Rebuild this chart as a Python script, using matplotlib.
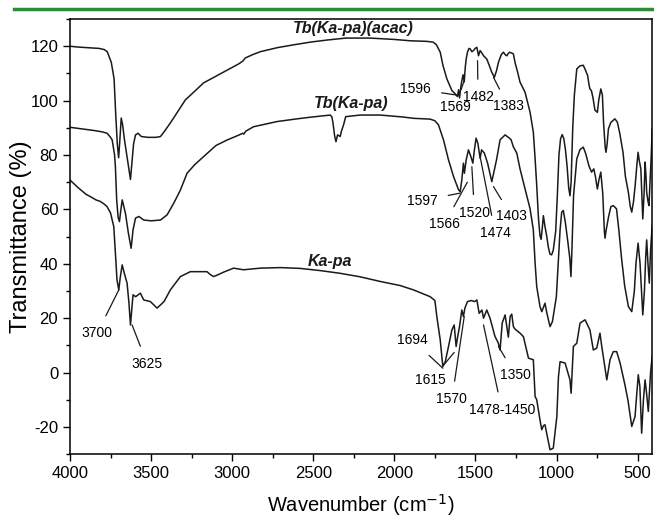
import matplotlib
matplotlib.use("Agg")
import matplotlib.pyplot as plt
from matplotlib.lines import Line2D
from matplotlib.ticker import MultipleLocator

plt.rcParams['font.family'] = ['Liberation Sans', 'DejaVu Sans']
plt.rcParams['axes.unicode_minus'] = False

# Tb(Ka-pa)(acac) spectrum (wavenumber, transmittance)
acac_wn = [4000, 3950, 3900, 3850, 3820, 3790, 3770, 3745, 3728, 3718, 3708, 3700, 3693,
           3684, 3675, 3665, 3650, 3640, 3627, 3618, 3608, 3596, 3580, 3560, 3520, 3470,
           3442, 3420, 3381, 3330, 3288, 3230, 3177, 3100, 3030, 2960, 2935, 2919, 2870,
           2826, 2720, 2623, 2520, 2413, 2300, 2150, 2000, 1900, 1800, 1760, 1740, 1717,
           1700, 1676, 1645, 1625, 1611, 1604, 1598, 1590, 1584, 1576, 1569, 1563, 1557,
           1549, 1540, 1532, 1522, 1512, 1500, 1491, 1481, 1471, 1460, 1450, 1430, 1415,
           1399, 1383, 1370, 1358, 1340, 1327, 1315, 1306, 1298, 1290, 1280, 1266, 1256,
           1240, 1225, 1194, 1163, 1143, 1132, 1122, 1111, 1102, 1095, 1088, 1081, 1072,
           1061, 1050, 1040, 1030, 1020, 1005, 995, 985, 975, 965, 955, 945, 935, 925, 917,
           910, 900, 890, 875, 855, 835, 820, 808, 800, 794, 785, 775, 763, 748, 740, 727,
           717, 710, 700, 695, 688, 680, 665, 640, 625, 610, 590, 575, 557, 545, 536, 525,
           515, 505, 497, 490, 480, 470, 468, 460, 454, 448, 444, 436, 430, 422, 415, 410]
acac_t = [120, 119.7, 119.5, 119.3, 119.2, 118.8, 118, 114, 108, 95, 84, 79, 85,
          93.6, 91, 86, 80, 76, 71, 77, 84, 87.4, 88, 86.8, 86.5, 86.5,
          86.8, 88.5, 91.8, 96.5, 100.3, 103.5, 106.5, 109, 111.3, 113.5, 114.5, 115.7, 117,
          118, 119.5, 120.5, 121.5, 122.3, 123, 123, 122.5, 122, 121.8, 121.5, 120.5, 117.8,
          112.9, 108, 103.7, 102.5, 101.5, 104, 101, 105, 107.3, 109.5, 106.9, 112, 115.3,
          117.8, 119.2, 119, 118, 118.4, 119.3, 119.6, 116.5, 118.4, 117.5, 116.5, 115.3, 113,
          110.4, 108.6, 111, 114.1, 117, 117.8, 116.8, 116.5, 117.3, 117.8, 117.6, 117.2, 114.1,
          110.5, 106.8, 103.1, 95.7, 88.4, 78.6, 68.8, 56.5, 50.4, 49, 53, 57.7, 54,
          50.4, 46, 43.5, 43.3, 45, 52, 65, 80, 86, 87.5, 86, 82, 76, 68, 65,
          70, 90, 102, 111.7, 112.8, 113, 111, 109.2, 106, 104.3, 103.7, 101, 96.5, 95.7, 100, 104.3,
          102, 92, 83, 81, 84, 89.6, 92, 93.3, 92.1, 88, 81, 72, 66.3, 61, 59, 63,
          68.8, 76, 81, 78, 74.9, 60, 56.5, 66, 77.4, 72, 66.3, 63, 61.4, 72, 81, 89.6]

# Tb(Ka-pa) spectrum
tb_wn = [4000, 3950, 3900, 3850, 3800, 3771, 3750, 3740, 3725, 3720, 3712, 3703, 3695,
         3688, 3678, 3670, 3658, 3640, 3623, 3611, 3596, 3575, 3545, 3500, 3442, 3401,
         3360, 3320, 3278, 3230, 3176, 3100, 3032, 2960, 2935, 2929, 2915, 2868, 2724,
         2600, 2518, 2395, 2385, 2378, 2368, 2360, 2350, 2344, 2334, 2325, 2313, 2300,
         2210, 2087, 1950, 1882, 1779, 1750, 1728, 1697, 1666, 1635, 1604, 1594, 1584,
         1574, 1568, 1557, 1543, 1528, 1516, 1506, 1496, 1485, 1471, 1462, 1445, 1425,
         1399, 1385, 1370, 1348, 1317, 1290, 1280, 1266, 1245, 1225, 1194, 1163, 1143,
         1132, 1122, 1102, 1091, 1081, 1071, 1060, 1040, 1025, 1001, 990, 978, 968, 958,
         945, 930, 918, 911, 905, 895, 875, 855, 835, 820, 800, 784, 770, 760, 748, 738,
         727, 715, 705, 701, 695, 680, 665, 650, 630, 615, 600, 580, 557, 536, 520, 510,
         497, 485, 468, 458, 450, 444, 436, 428, 420, 410]
tb_t = [90.2, 89.8, 89.4, 89, 88.5, 88, 86.5, 85.6, 80, 75.7, 63.5, 57, 55.5,
        59, 63.5, 61.5, 58.6, 51.3, 45.7, 52.5, 56.8, 57.4, 56.1, 55.8, 56.1, 58,
        62.3, 67, 73.3, 76.5, 79.4, 83.5, 85.5, 87.3, 88, 87.7, 88.8, 90.4, 92.3,
        93.3, 93.9, 94.7, 94, 91.7, 87, 84.9, 87.4, 87.2, 86.8, 89, 91.1, 94.1,
        94.7, 94.7, 94, 93.5, 93.2, 92.6, 91.1, 85.6, 78.2, 72.1, 67.2, 66.5, 70.8,
        77, 73.3, 78.2, 81.9, 79.4, 77, 82, 86.2, 84.3, 78.8, 81.9, 80.7, 77,
        70.2, 74, 78.2, 85.6, 87.4, 86.2, 85.6, 83, 80.7, 74.9, 67.5, 60.2, 52.5,
        40.2, 31.6, 24.3, 22.4, 24, 25.5, 22, 16.9, 18.8, 27.9, 40, 52.5, 59, 59.6,
        55, 48, 42, 35.3, 45, 65, 78.6, 82, 82.9, 80.5, 76, 73.7, 74.9, 72, 67.5, 71,
        73.7, 66, 52, 49.4, 52, 57, 61, 61.4, 60.2, 52, 42.6, 32, 24.3, 22.4, 30, 40.2,
        47.6, 40.2, 21.2, 30, 42.6, 48.8, 40, 32.9, 45, 54]

# Ka-pa spectrum
ka_wn = [4000, 3950, 3900, 3874, 3840, 3812, 3790, 3771, 3750, 3730, 3720, 3710, 3699,
         3690, 3678, 3665, 3648, 3637, 3627, 3618, 3611, 3595, 3566, 3545, 3504, 3463,
         3420, 3381, 3319, 3258, 3196, 3155, 3134, 3114, 3090, 3050, 2991, 2930, 2826,
         2703, 2580, 2457, 2334, 2210, 2087, 1964, 1882, 1779, 1750, 1738, 1717, 1701,
         1686, 1666, 1645, 1631, 1619, 1610, 1598, 1584, 1574, 1565, 1549, 1525, 1505,
         1491, 1477, 1460, 1450, 1430, 1410, 1379, 1360, 1348, 1335, 1317, 1297, 1286,
         1276, 1266, 1256, 1225, 1204, 1173, 1143, 1132, 1122, 1102, 1091, 1080, 1071,
         1055, 1040, 1020, 998, 988, 978, 947, 917, 910, 896, 875, 855, 824, 794, 773,
         752, 732, 721, 690, 670, 650, 629, 608, 580, 560, 536, 516, 496, 486, 475, 464,
         454, 444, 434, 420, 410]
ka_t = [70.8, 68, 65.5, 64.7, 63.5, 62.9, 62, 61, 58.7, 53.7, 44, 34, 30.4,
        35, 39.6, 36.5, 32.9, 26, 17.5, 24, 28.6, 27.9, 29.2, 26.7, 26.1, 23.7,
        26.1, 30.4, 35.3, 37.1, 37.1, 37.1, 36, 35.3, 35.9, 37, 38.4, 37.8, 38.4,
        38.6, 38.3, 37.5, 36.5, 35.2, 33.5, 32, 30.4, 27.9, 26.5, 20.6, 12, 2.2,
        4, 9.6, 15.7, 17.5, 9.6, 13, 16.9, 23, 20.6, 23.7, 26.1, 26.5, 26.1,
        26.7, 21.8, 23, 20, 23, 20, 13.2, 11, 8.3, 18.2, 21.2, 13, 20.6,
        21.5, 16.9, 16, 14.5, 13.2, 5.3, 4.7, -8.8, -10, -17.4, -21, -19.5, -19.2,
        -24, -28.4, -27.8, -16.2, -1.5, 4, 3.5, -2.7, -7.6, 9.6, 10.8, 18.2, 19.4, 15.7, 8.3,
        9, 14.5, 9.6, -2.7, 4.7, 7.7, 7.7, 3.5, -4, -10, -19.8, -16.2, -0.8, -5.1, -22.3, -10,
        -2.7, -8, -14.3, 0, 6]

# peak labels: (text, point on curve, label position)
peak_labels = [
    ("1596", (1610, 102), (1871, 104.3)),
    ("1569", (1569, 107.4), (1625, 97.6)),
    ("1482", (1487, 114.7), (1484, 101.2)),
    ("1383", (1389, 108.6), (1297, 97.9)),
    ("1597", (1594, 66), (1830, 63.2)),
    ("1566", (1550, 70), (1691, 54.7)),
    ("1520", (1522, 75.7), (1506, 58.8)),
    ("1474", (1471, 79.4), (1378, 51.2)),
    ("1403", (1389, 68.4), (1276, 57.4)),
    ("1694", (1701, 1.6), (1888, 12)),
    ("1615", (1631, 7.4), (1775, -2.9)),
    ("1570", (1569, 20.6), (1645, -9.8)),
    ("1478-1450", (1450, 17.5), (1337, -13.7)),
    ("1350", (1358, 9.6), (1255, -0.8)),
    ("3700", (3699, 30.4), (3832, 14.5)),
    ("3625", (3617, 17.5), (3524, 3.2)),
]

curve_names = ["Tb(Ka-pa)(acac)", "Tb(Ka-pa)", "Ka-pa"]
name_pos = [(2253, 126.5), (2266, 99.0), (2395, 40.7)]

fig = plt.figure(figsize=(6.54, 5.22), dpi=100)
ax = fig.add_axes([0.107, 0.130, 0.890, 0.8335])

for wn, t in [(acac_wn, acac_t), (tb_wn, tb_t), (ka_wn, ka_t)]:
    ax.plot(wn, t, color='#1a1a1a', lw=1.1)

for text, xy, xytext in peak_labels:
    ax.annotate(text, xy=xy, xytext=xytext, fontsize=10, ha='center', va='center',
                arrowprops=dict(arrowstyle='-', color='#1a1a1a', lw=0.9,
                                shrinkA=6, shrinkB=0))

for name, (x, y) in zip(curve_names, name_pos):
    ax.text(x, y, name, fontsize=11.5, fontweight='bold', fontstyle='italic',
            ha='center', va='center', color='#1a1a1a')

ax.set_xlim(4000, 411)
ax.set_ylim(-30, 130)
ax.xaxis.set_major_locator(MultipleLocator(500))
ax.xaxis.set_minor_locator(MultipleLocator(250))
ax.yaxis.set_major_locator(MultipleLocator(20))
ax.yaxis.set_minor_locator(MultipleLocator(10))
ax.set_yticks(range(-20, 121, 20))
ax.tick_params(which='major', direction='out', length=5, width=1, labelsize=12)
ax.tick_params(which='minor', direction='out', length=3, width=1)
for s in ax.spines.values():
    s.set_linewidth(1.1)

ax.set_xlabel('Wavenumber (cm$^{-1}$)', fontsize=14.5)
ax.set_ylabel('Transmittance (%)', fontsize=17)
ax.xaxis.set_label_coords(0.5, -0.088)
ax.yaxis.set_label_coords(-0.066, 0.5)

# journal header rule
fig.add_artist(Line2D([0.021, 1.0], [0.983, 0.983], color='#2e8b3a', lw=2.5))

fig.savefig('out.png', dpi=100)
